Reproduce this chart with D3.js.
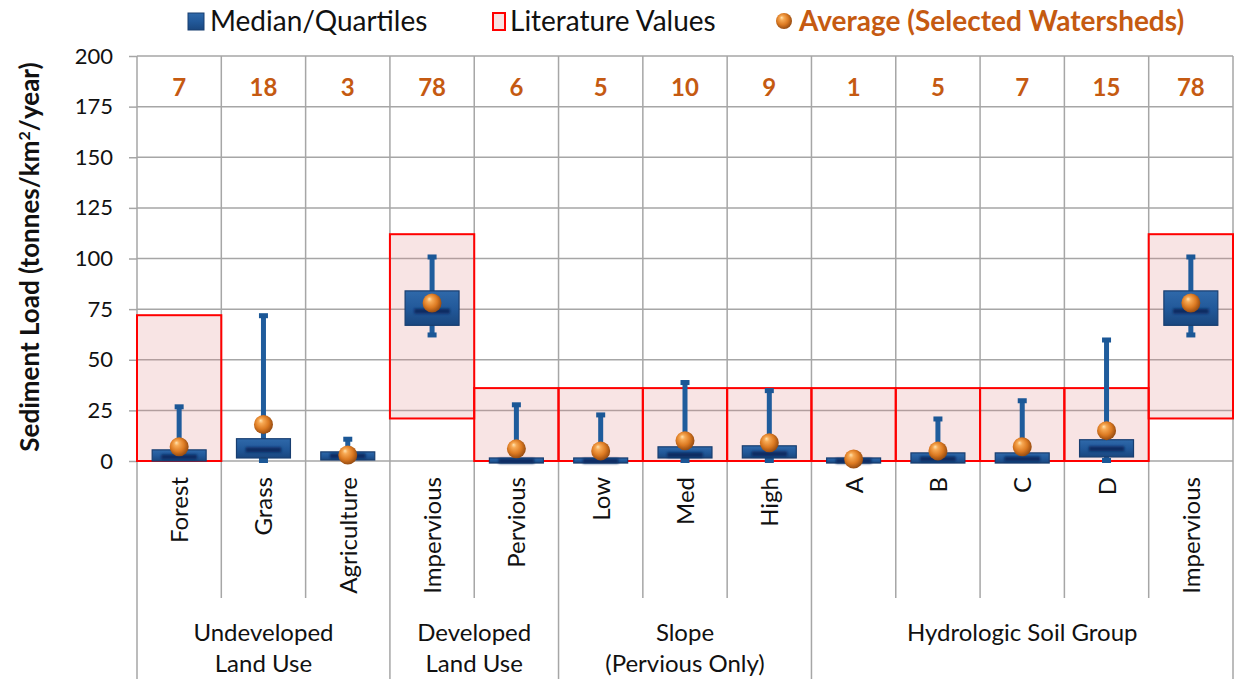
<!DOCTYPE html>
<html>
<head>
<meta charset="utf-8">
<script src="https://cdn.jsdelivr.net/npm/d3@7"></script>
<style>
  html, body { margin: 0; padding: 0; background: #fff; }
  svg { display: block; font-family: Lato, "Noto Sans", sans-serif; }
</style>
</head>
<body>
<svg id="chart" width="1235" height="679"></svg>
<script>
// Sediment load by watershed characteristic (tonnes/km²/year)
const categories = ["Forest", "Grass", "Agriculture", "Impervious", "Pervious", "Low", "Med", "High", "A", "B", "C", "D", "Impervious"];
const groupNames = [["Undeveloped", "Land Use"], ["Developed", "Land Use"], ["Slope", "(Pervious Only)"], ["Hydrologic Soil Group"]];
const groupSizes = [3, 2, 3, 5];

// Box plot statistics
const whiskerLow  = [0, 0, 0, 62, -1, -1, 0, 0, -1, -1, -1, 0, 62];
const quartile1   = [0, 1.5, 0.5, 67, -1, -1, 1.5, 1.5, -1, -1, -1, 2, 67];
const median      = [2, 5.5, 2.5, 74, 0, 0, 3, 3.5, 0, 1, 1, 6, 74];
const quartile3   = [5.5, 11, 4.5, 84, 1.5, 1.5, 7, 7.5, 1.5, 4, 4, 10.5, 84];
const whiskerHigh = [27, 72, 11, 101, 28, 23, 39, 35, 1.5, 21, 30, 60, 101];

// Average of the selected watersheds
const average = [7, 18, 3, 78, 6, 5, 10, 9, 1, 5, 7, 15, 78];

// Literature ranges (null where none is reported)
const literatureLow  = [0, null, null, 21, 0, 0, 0, 0, 0, 0, 0, 0, 21];
const literatureHigh = [72, null, null, 112, 36, 36, 36, 36, 36, 36, 36, 36, 112];

const yTicks = [0, 25, 50, 75, 100, 125, 150, 175, 200];

const plotLeft = 137, plotRight = 1233, plotTop = 56, plotBottom = 461;
const svg = d3.select("#chart");

const x = d3.scaleBand().domain(d3.range(categories.length)).range([plotLeft, plotRight]).padding(0);
const y = d3.scaleLinear().domain([0, 200]).range([plotBottom, plotTop]);
const bw = x.bandwidth();

// Gradients
const defs = svg.append("defs");
const ballGrad = defs.append("radialGradient").attr("id", "ball")
  .attr("cx", "45%").attr("cy", "45%").attr("r", "60%").attr("fx", "35%").attr("fy", "28%");
[["0%", "#ffe3b0"], ["22%", "#f7a954"], ["60%", "#dc7a22"], ["100%", "#8a430e"]]
  .forEach(([o, c]) => ballGrad.append("stop").attr("offset", o).attr("stop-color", c));

const boxGrad = defs.append("linearGradient").attr("id", "box").attr("x1", 0).attr("y1", 0).attr("x2", 0).attr("y2", 1);
[["0%", "#2f69aa"], ["50%", "#22599a"], ["100%", "#1a477f"]]
  .forEach(([o, c]) => boxGrad.append("stop").attr("offset", o).attr("stop-color", c));

const soft = defs.append("filter").attr("id", "soft").attr("x", "-20%").attr("y", "-50%").attr("width", "140%").attr("height", "200%");
soft.append("feGaussianBlur").attr("stdDeviation", 0.8);

const gridColor = "#a6a6a6";

// Horizontal gridlines
svg.append("g").selectAll("line").data(yTicks.filter(d => d > 0)).join("line")
  .attr("x1", plotLeft).attr("x2", plotRight)
  .attr("y1", d => y(d)).attr("y2", d => y(d))
  .attr("stroke", gridColor).attr("stroke-width", 1.5);

// Category boundaries; group boundaries run to the bottom edge
const groupEdges = [0];
groupSizes.forEach(s => groupEdges.push(groupEdges[groupEdges.length - 1] + s));
const edges = d3.range(categories.length + 1);
svg.append("g").selectAll("line").data(edges).join("line")
  .attr("x1", i => i < categories.length ? x(i) : plotRight)
  .attr("x2", i => i < categories.length ? x(i) : plotRight)
  .attr("y1", plotTop)
  .attr("y2", i => groupEdges.includes(i) ? 679 : 598)
  .attr("stroke", gridColor).attr("stroke-width", 1.5);

// Baseline
svg.append("line").attr("x1", plotLeft).attr("x2", plotRight).attr("y1", y(0)).attr("y2", y(0))
  .attr("stroke", gridColor).attr("stroke-width", 1.5);

// Y axis
const yAxis = d3.axisLeft(y).tickValues(yTicks).tickSize(8).tickPadding(16);
const gy = svg.append("g").attr("transform", `translate(${plotLeft},0)`).call(yAxis);
gy.select(".domain").remove();
gy.selectAll(".tick line").attr("stroke", gridColor).attr("stroke-width", 1.5);
gy.selectAll(".tick text").attr("font-size", 22).attr("fill", "#111").attr("font-family", "Lato");

// Literature ranges
const litIdx = d3.range(categories.length).filter(i => literatureHigh[i] != null);
svg.append("g").selectAll("rect").data(litIdx).join("rect")
  .attr("x", i => x(i)).attr("width", bw)
  .attr("y", i => y(literatureHigh[i]))
  .attr("height", i => y(literatureLow[i]) - y(literatureHigh[i]))
  .attr("fill", "rgba(224,130,130,0.22)")
  .attr("stroke", "#ff0000").attr("stroke-width", 2);

// Box plots
const boxW = bw * 0.64;
const bx = svg.append("g");
d3.range(categories.length).forEach(i => {
  const cx = x(i) + bw / 2;
  const g = bx.append("g");
  // whisker
  g.append("rect").attr("x", cx - 2.5).attr("width", 5)
    .attr("y", y(whiskerHigh[i])).attr("height", y(whiskerLow[i]) - y(whiskerHigh[i]))
    .attr("fill", "#1f5c9c");
  // caps
  if (whiskerHigh[i] > quartile3[i])
    g.append("rect").attr("x", cx - 4.5).attr("width", 9).attr("y", y(whiskerHigh[i]) - 2).attr("height", 5).attr("fill", "#1b5796");
  if (whiskerLow[i] < quartile1[i])
    g.append("rect").attr("x", cx - 4.5).attr("width", 9).attr("y", y(whiskerLow[i]) - 3).attr("height", 5).attr("fill", "#1b5796");
  // box
  g.append("rect").attr("x", cx - boxW / 2).attr("width", boxW)
    .attr("y", y(quartile3[i])).attr("height", Math.max(2, y(quartile1[i]) - y(quartile3[i])))
    .attr("fill", "url(#box)").attr("stroke", "#183e70").attr("stroke-width", 1.2);
  // median band
  g.append("rect").attr("x", cx - boxW * 0.33).attr("width", boxW * 0.66)
    .attr("y", y(median[i]) - 2.5).attr("height", 5)
    .attr("fill", "#0c2a62").attr("filter", "url(#soft)");
});

// Averages
svg.append("g").selectAll("circle").data(d3.range(categories.length)).join("circle")
  .attr("cx", i => x(i) + bw / 2).attr("cy", i => y(average[i])).attr("r", 9.5)
  .attr("fill", "url(#ball)");

// Average values printed across the top
svg.append("g").selectAll("text").data(d3.range(categories.length)).join("text")
  .attr("x", i => x(i) + bw / 2).attr("y", 96)
  .attr("text-anchor", "middle").attr("font-size", 24).attr("font-weight", 700)
  .attr("fill", "#c55a11").text(i => average[i]);

// Category labels (rotated)
svg.append("g").selectAll("text").data(d3.range(categories.length)).join("text")
  .attr("transform", i => `translate(${x(i) + bw / 2 + 9},477) rotate(-90)`)
  .attr("text-anchor", "end").attr("font-size", 24).attr("fill", "#111")
  .text(i => categories[i]);

// Group labels
const gl = svg.append("g");
groupNames.forEach((lines, k) => {
  const cx = (x(groupEdges[k]) + (groupEdges[k + 1] < categories.length ? x(groupEdges[k + 1]) : plotRight)) / 2;
  lines.forEach((t, j) => {
    gl.append("text").attr("x", cx).attr("y", 641 + j * 31)
      .attr("text-anchor", "middle").attr("font-size", 24).attr("fill", "#111").text(t);
  });
});

// Y axis title
svg.append("text")
  .attr("transform", `translate(39,257) rotate(-90)`)
  .attr("text-anchor", "middle").attr("font-size", 26).attr("font-weight", 700).attr("fill", "#111")
  .html('Sediment Load (tonnes/km<tspan dy="-9" font-size="16">2</tspan><tspan dy="9">/year)</tspan>');

// Legend
const lg = svg.append("g");
lg.append("rect").attr("x", 188).attr("y", 13).attr("width", 16).attr("height", 17)
  .attr("fill", "url(#box)").attr("stroke", "#183e70").attr("stroke-width", 1);
lg.append("text").attr("x", 210).attr("y", 31).attr("font-size", 28).attr("fill", "#111").text("Median/Quartiles");
lg.append("rect").attr("x", 493).attr("y", 13).attr("width", 12).attr("height", 17)
  .attr("fill", "#f8e2e2").attr("stroke", "#ff0000").attr("stroke-width", 2);
lg.append("text").attr("x", 510).attr("y", 31).attr("font-size", 28).attr("fill", "#111").text("Literature Values");
lg.append("circle").attr("cx", 784).attr("cy", 21).attr("r", 8).attr("fill", "url(#ball)");
lg.append("text").attr("x", 799).attr("y", 31).attr("font-size", 28).attr("font-weight", 700)
  .attr("fill", "#c55a11").text("Average (Selected Watersheds)");
</script>
</body>
</html>
